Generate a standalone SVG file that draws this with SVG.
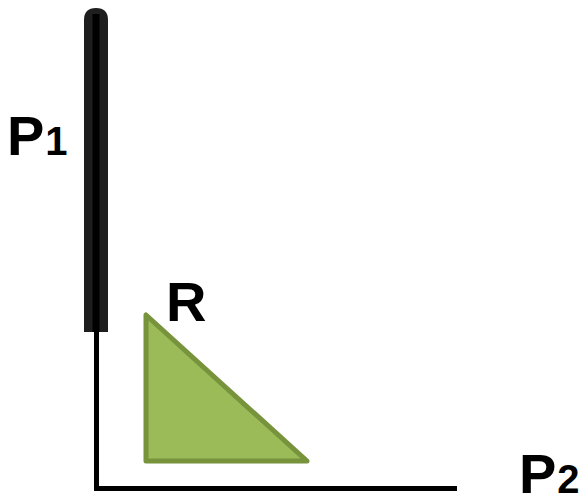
<svg xmlns="http://www.w3.org/2000/svg" width="585" height="494" viewBox="0 0 585 494">
<style>
.lbl{font-family:"Liberation Sans",Arial,sans-serif;font-weight:bold;fill:#000}
.axis{stroke:#000;stroke-width:5;fill:none}
</style>
<rect width="585" height="494" fill="#fff"/>
<g id="axes">
<line class="axis" x1="96.5" y1="330" x2="96.5" y2="488.5"/>
<line class="axis" x1="94" y1="488.5" x2="457" y2="488.5"/>
</g>
<g id="P1-bar">
<path d="M84,332 V20 Q84,8 96,8 Q108,8 108,20 V332 Z" fill="#1e1e1e"/>
<rect x="92.5" y="14" width="7" height="318" fill="#000"/>
</g>
<g id="R">
<polygon points="146,315 146,461 307,461" fill="#9BBB59" stroke="#77933C" stroke-width="5" stroke-linejoin="round"/>
<text class="lbl" x="166" y="321" font-size="56">R</text>
</g>
<g id="P1-label">
<text class="lbl" x="7" y="155" font-size="56">P<tspan font-size="40" dx="1">1</tspan></text>
</g>
<g id="P2-label">
<text class="lbl" x="519" y="493" font-size="56">P<tspan font-size="40" dx="1">2</tspan></text>
</g>
</svg>
